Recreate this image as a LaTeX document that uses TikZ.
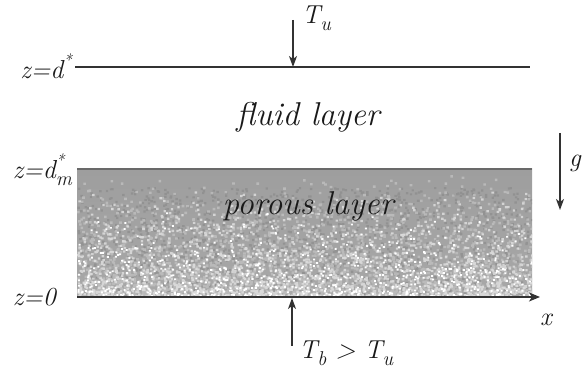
\documentclass[tikz,border=0pt]{standalone}
\usepackage{amsmath}
\usetikzlibrary{arrows.meta}
\definecolor{linegray} {RGB}{50,  50,  50}
\definecolor{textgray} {RGB}{25,  25,  25}
\definecolor{edgegray} {RGB}{105, 105, 105}
\definecolor{poretop}  {RGB}{158, 158, 158}
\definecolor{porebot}  {RGB}{168, 168, 168}
\definecolor{poredark} {RGB}{140, 140, 140}
\definecolor{poremid}  {RGB}{192, 192, 192}
\definecolor{porelight}{RGB}{225, 225, 225}
\newcommand{\lowidx}[1]{\raisebox{-0.28em}{\fontsize{20}{20}\selectfont #1}}
\newcommand{\highidx}[1]{\raisebox{0.45em}{\fontsize{17}{17}\selectfont #1}}
\tikzset{
  axisline/.style={draw=linegray, line width=1.5pt},
  flowarrow/.style={
    draw=linegray, line width=1.3pt,
    -{Stealth[length=11pt, width=8pt, inset=3pt]}
  },
  levellabel/.style={
    font=\fontsize{26}{28}\selectfont\itshape, inner sep=0pt,
    text=textgray
  },
  layerlabel/.style={
    font=\fontsize{33}{36}\selectfont\itshape, inner sep=0pt,
    text=textgray
  },
}

\begin{document}
\begin{tikzpicture}[x=1pt, y=-1pt]
\useasboundingbox (0,0) rectangle (584,371);
\pgfmathsetseed{7}

% ── Porous layer ─────────────────────────────────────────────────────────────
\coordinate (poreNW) at (77,169);
\coordinate (poreSE) at (532,297);
\shade[top color=poretop, bottom color=porebot] (poreNW) rectangle (poreSE);
\begin{scope}
  \clip (poreNW) rectangle (poreSE);
  \fill[poredark, opacity=0.7] \foreach \k in {1,...,1500} {
    ({77+455*rnd},{297-110*rnd}) rectangle ++(2.4,2.2)
  };
  \fill[poremid, opacity=0.8] \foreach \k in {1,...,2600} {
    ({77+455*rnd},{297-125*rnd*rnd}) rectangle ++(2.6,2.4)
  };
  \fill[porelight, opacity=0.8] \foreach \k in {1,...,1900} {
    ({77+455*rnd},{297-110*rnd*rnd}) rectangle ++(2.4,2.2)
  };
  \fill[white] \foreach \k in {1,...,800} {
    ({77+455*rnd},{297-90*rnd*rnd}) rectangle ++(2,1.8)
  };
\end{scope}
\draw[draw=edgegray, line width=1.6pt] (poreNW) -- (poreNW -| poreSE);

% ── Upper boundary and bottom axis ───────────────────────────────────────────
\coordinate (topL) at (75,67);
\coordinate (topR) at (530,67);
\draw[axisline] (topL) -- (topR);

\coordinate (axisL) at (77,297);
\coordinate (axisR) at (540,297);
\draw[axisline, -{Stealth[length=11pt, width=9pt, inset=3pt]}] (axisL) -- (axisR);

% ── Level labels ─────────────────────────────────────────────────────────────
\node[levellabel, anchor=east] (ztop) at (72,66) {z=d\highidx{*}};
\node[levellabel, anchor=east] (zmid) at (72,170)
  {z=d\rlap{\highidx{*}}\lowidx{m}};
\node[levellabel, anchor=east] (zbot) at (56,297) {z=0};
\node[levellabel] (xlab) at (546,320) {x};

% ── Layer names ──────────────────────────────────────────────────────────────
\node[layerlabel] (fluid) at (308,117) {fluid layer};
\node[layerlabel] (porous) at (308,206) {porous layer};

% ── Temperatures and gravity ─────────────────────────────────────────────────
\node[levellabel, anchor=west] (tu) at (302,18) {T\lowidx{u}};
\coordinate (tustart) at (293,20);
\coordinate (tuhit) at (293,67);
\draw[flowarrow] (tustart) -- (tuhit);

\node[levellabel, anchor=west] (tb) at (299,353) {T\lowidx{b} > T\lowidx{u}};
\coordinate (tbstart) at (292,346);
\coordinate (tbhit) at (292,298);
\draw[flowarrow] (tbstart) -- (tbhit);

\coordinate (gtop) at (560,133);
\coordinate (gbot) at (560,210);
\draw[flowarrow] (gtop) -- (gbot);
\node[levellabel, anchor=west] (glab) at (569,163) {g};

\end{tikzpicture}
\end{document}
